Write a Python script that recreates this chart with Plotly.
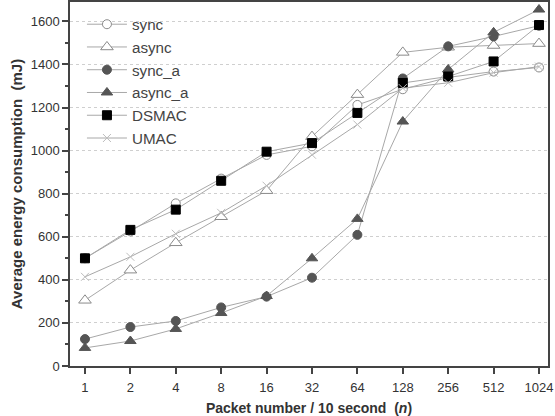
import plotly.graph_objects as go

packets = [1, 2, 4, 8, 16, 32, 64, 128, 256, 512, 1024]
tick_labels = [str(p) for p in packets]

sync = [500, 625, 755, 870, 980, 1020, 1212, 1285, 1340, 1367, 1386]
async_ = [305, 445, 572, 693, 814, 1065, 1260, 1456, 1480, 1488, 1497]
sync_a = [125, 181, 209, 272, 322, 410, 609, 1335, 1484, 1530, 1580]
async_a = [84, 116, 172, 246, 325, 500, 683, 1135, 1377, 1549, 1655]
dsmac = [500, 632, 726, 860, 995, 1035, 1175, 1314, 1344, 1414, 1583]
umac = [414, 507, 614, 711, 837, 981, 1121, 1290, 1315, 1362, 1390]

line_col = "#a8a8a8"
series = [
    ("sync", sync, dict(symbol="circle", size=9, color="white", line=dict(color="#8a8a8a", width=1))),
    ("async", async_, dict(symbol="triangle-up", size=11, color="white", line=dict(color="#8a8a8a", width=1))),
    ("sync_a", sync_a, dict(symbol="circle", size=9, color="#555555", line=dict(color="#555555", width=1))),
    ("async_a", async_a, dict(symbol="triangle-up", size=10, color="#555555", line=dict(color="#555555", width=1))),
    ("DSMAC", dsmac, dict(symbol="square", size=9, color="black", line=dict(color="black", width=1))),
    ("UMAC", umac, dict(symbol="x-thin", size=8, color="#bdbdbd", line=dict(color="#bdbdbd", width=1))),
]

fig = go.Figure()
for name, vals, mk in series:
    fig.add_trace(go.Scatter(
        x=packets, y=vals, name=name, mode="lines+markers",
        line=dict(color=line_col, width=1), marker=mk,
    ))

fig.update_layout(
    width=555, height=416,
    margin=dict(l=70, r=7, t=2, b=50),
    paper_bgcolor="white", plot_bgcolor="white",
    font=dict(family="Liberation Sans, Arial, sans-serif", color="#333333", size=12),
    showlegend=True,
    legend=dict(x=0.025, y=0.984, xanchor="left", yanchor="top",
                bgcolor="rgba(0,0,0,0)", font=dict(size=15.2, color="#444444"),
                tracegroupgap=0, itemwidth=40),
)
fig.update_xaxes(
    type="log", range=[-0.0993, 3.07],
    tickvals=packets, ticktext=tick_labels,
    showgrid=False, zeroline=False, automargin=False,
    showline=True, mirror=True, linecolor="#444444", linewidth=1.5,
    ticks="outside", ticklen=6, tickcolor="#444444", tickwidth=1.5,
    ticklabelstandoff=3,
    tickfont=dict(size=13, color="#333333"),
    title=dict(text="<b>Packet number / 10 second  (<i>n</i>)</b>", font=dict(size=14, color="#333333"), standoff=22),
)
fig.update_yaxes(
    range=[0, 1690], tickvals=[0, 200, 400, 600, 800, 1000, 1200, 1400, 1600],
    showgrid=True, gridcolor="#cfcfcf", griddash="dot", gridwidth=1,
    zeroline=False,
    showline=True, mirror=True, linecolor="#444444", linewidth=1.5,
    ticks="outside", ticklen=6, tickcolor="#444444", tickwidth=1.5,
    minor=dict(dtick=100, ticks="outside", ticklen=3, tickcolor="#444444", showgrid=False),
    tickfont=dict(size=13, color="#333333"),
    title=dict(text="<b>Average energy consumption  (mJ)</b>", font=dict(size=15, color="#333333"), standoff=4),
)

fig.write_html("out.html")
